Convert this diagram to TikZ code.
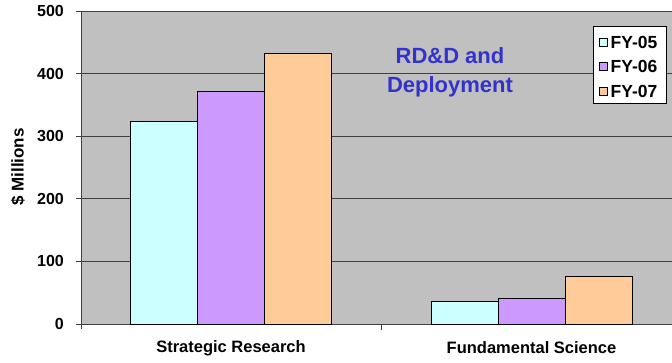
\documentclass[tikz,border=0pt]{standalone}
\usepackage{fontspec}
\setmainfont{Liberation Sans}
\usetikzlibrary{positioning}
\definecolor{plotColor}{HTML}{C0C0C0}
\definecolor{gridColor}{HTML}{404040}
\definecolor{fyFiveColor}{HTML}{CCFFFF}
\definecolor{fySixColor}{HTML}{CC99FF}
\definecolor{fySevenColor}{HTML}{FFCC99}
\definecolor{titleColor}{HTML}{3333CC}

\begin{document}
\begin{tikzpicture}[%
    x=1pt,y=1pt,every node/.style={font=\bfseries}]
    \tikzstyle{bar}=[draw=black,line width=0.8pt]
    \tikzstyle{grid}=[draw=gridColor,line width=0.8pt]
    \tikzstyle{tickLabel}=[font=\bfseries\fontsize{16}{19}\selectfont,%
      anchor=east,inner sep=1pt]
    \tikzstyle{category}=[font=\bfseries\fontsize{16.5}{20}\selectfont]
    \tikzstyle{legendEntry}=[font=\bfseries\fontsize{17.5}{21}\selectfont,%
      anchor=west,inner sep=0pt]
    \tikzstyle{marker}=[rectangle,draw=black,line width=0.6pt,%
      minimum size=8pt,inner sep=0pt]
    \useasboundingbox (0,0) rectangle (672,362);
    % Plot area
    \fill [plotColor] (81,38) rectangle (672,351);
    \begin{scope}[yshift=38pt,y=0.626pt]
      % Grid lines and values
      \foreach \v in {0,100,...,500} {
        \draw [grid] (76,\v) -- (672,\v);
        \node (tick\v) [tickLabel] at (65,\v) {\v};
      }
      \draw [grid] (81,-8) -- (81,500);
      \draw [grid] (381.5,0) -- (381.5,-9);
      % All bars
      \draw [bar,fill=fyFiveColor] (130,0) rectangle (197,324);
      \draw [bar,fill=fySixColor] (197,0) rectangle (264,371);
      \draw [bar,fill=fySevenColor] (264,0) rectangle (331.5,432);
      \draw [bar,fill=fyFiveColor] (431,0) rectangle (498,36);
      \draw [bar,fill=fySixColor] (498,0) rectangle (565,41);
      \draw [bar,fill=fySevenColor] (565,0) rectangle (632,76);
    \end{scope}
    % Labels
    \node (axisLabel) [rotate=90,font=\bfseries\fontsize{17}{20}\selectfont]
      at (18,195) {\$ Millions};
    \node (strategic) [category] at (231,14) {Strategic Research};
    \node (fundamental) [category] at (531.5,14) {Fundamental Science};
    \node (title) [align=center,text=titleColor,%
      font=\bfseries\fontsize{22}{29}\selectfont] at (450,290)
      {RD\&D and\\Deployment};
    % Legend
    \node (legend) [draw=black,fill=white,line width=0.6pt,inner sep=0pt,%
      minimum width=73pt,minimum height=77pt] at (629.5,297.5) {};
    \node (fyFive) [legendEntry] at (610.5,320) {FY-05};
    \node (fySix) [legendEntry] at (610.5,296) {FY-06};
    \node (fySeven) [legendEntry] at (610.5,271) {FY-07};
    \node (fyFiveMark) [marker,fill=fyFiveColor,left=3pt of fyFive] {};
    \node (fySixMark) [marker,fill=fySixColor,left=3pt of fySix] {};
    \node (fySevenMark) [marker,fill=fySevenColor,left=3pt of fySeven] {};
  \end{tikzpicture}
\end{document}
